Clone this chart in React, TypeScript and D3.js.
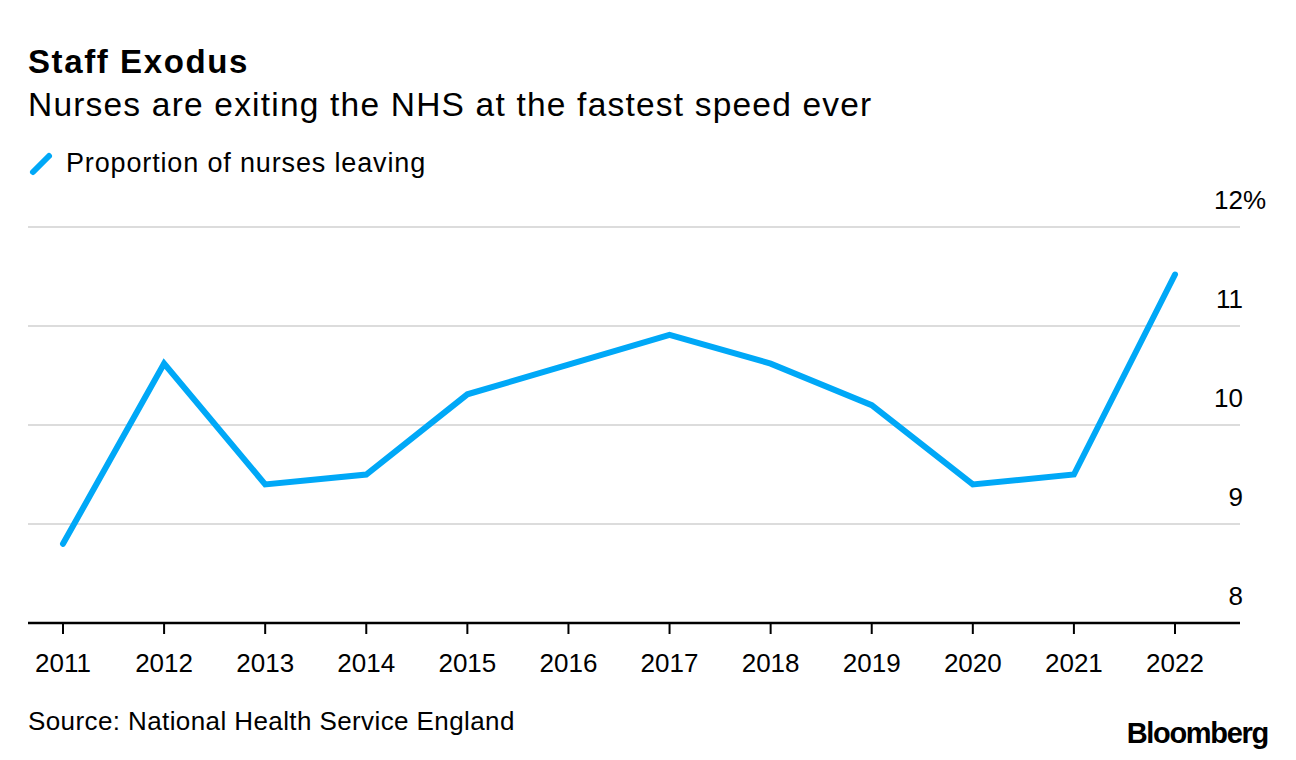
import React from "react";
import * as d3 from "d3";

const years: number[] = [2011, 2012, 2013, 2014, 2015, 2016, 2017, 2018, 2019, 2020, 2021, 2022];
const leavingRate: number[] = [8.8, 10.62, 9.4, 9.5, 10.31, 10.61, 10.91, 10.62, 10.2, 9.4, 9.5, 11.52];
const yTicks: number[] = [8, 9, 10, 11, 12];

const title = "Staff Exodus";
const subtitle = "Nurses are exiting the NHS at the fastest speed ever";
const legendLabel = "Proportion of nurses leaving";
const source = "Source: National Health Service England";

const W = 1296;
const H = 760;
const FONT = "'Liberation Sans', Arial, Helvetica, sans-serif";
const BLUE = "#00a8f7";

export default function App() {
  const x = d3.scaleLinear().domain([2011, 2022]).range([63, 1175]);
  const y = d3.scaleLinear().domain([8, 12]).range([623, 227]);
  const line = d3
    .line<number>()
    .x((_, i) => x(years[i]))
    .y((d) => y(d));

  return (
    <svg
      width={W}
      height={H}
      style={{ position: "absolute", left: 0, top: 0, display: "block", background: "#fff" }}
      fontFamily={FONT}
    >
      <text x={28} y={73} fontSize={33} fontWeight="bold" letterSpacing={1.6} fill="#000">
        {title}
      </text>
      <text x={28} y={116} fontSize={33.5} letterSpacing={1.2} fill="#000">
        {subtitle}
      </text>
      <line x1={33} y1={172} x2={49} y2={156} stroke={BLUE} strokeWidth={6} strokeLinecap="round" />
      <text x={66} y={172} fontSize={27} letterSpacing={0.85} fill="#000">
        {legendLabel}
      </text>

      {yTicks.filter((t) => t > 8).map((t) => (
        <line key={"g" + t} x1={28} x2={1240} y1={y(t)} y2={y(t)} stroke="#dcdcdc" strokeWidth={2} />
      ))}
      {yTicks.map((t) => (
        <g key={"yl" + t}>
          <text x={1243} y={y(t) - 18} fontSize={26} textAnchor="end" fill="#000">
            {String(t)}
          </text>
          {t === 12 && (
            <text x={1243} y={y(t) - 18} fontSize={26} fill="#000">
              %
            </text>
          )}
        </g>
      ))}

      <path d={line(leavingRate) || ""} fill="none" stroke={BLUE} strokeWidth={6} strokeLinejoin="miter" strokeLinecap="round" />

      <line x1={28} x2={1240} y1={623} y2={623} stroke="#000" strokeWidth={2.5} />
      {years.map((yr) => (
        <g key={yr}>
          <line x1={x(yr)} x2={x(yr)} y1={623} y2={634} stroke="#000" strokeWidth={2} />
          <text x={x(yr)} y={672} fontSize={26} textAnchor="middle" fill="#000">
            {String(yr)}
          </text>
        </g>
      ))}

      <text x={28} y={730} fontSize={26} letterSpacing={0.4} fill="#000">
        {source}
      </text>
      <text x={1268} y={743} fontSize={29} fontWeight="bold" letterSpacing={-1.3} textAnchor="end" fill="#000">
        Bloomberg
      </text>
    </svg>
  );
}
